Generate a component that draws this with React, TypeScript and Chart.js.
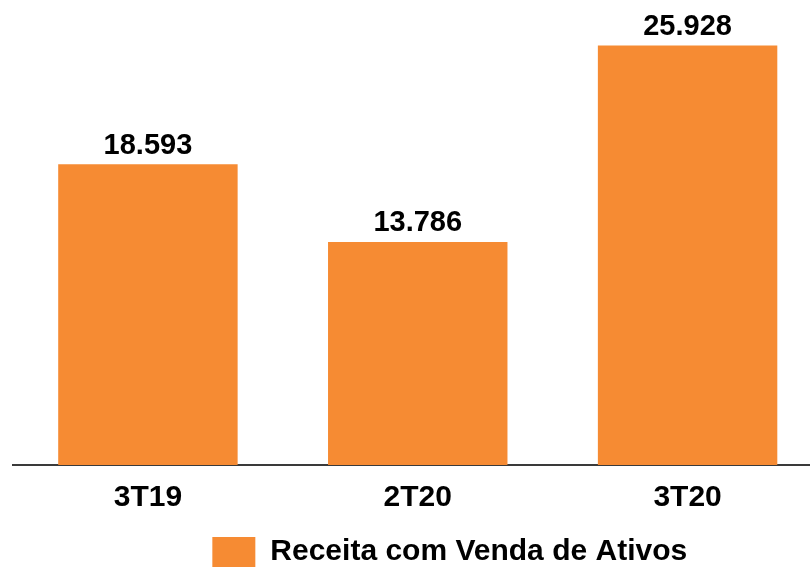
import React, { useEffect, useRef } from "react";
import { Chart, registerables } from "chart.js";

Chart.register(...registerables);

const categories = ["3T19", "2T20", "3T20"];
const seriesName = "Receita com Venda de Ativos";
const seriesValues = [18593, 13786, 25928];

const BAR_COLOR = "#F68B33";
const FONT = "'Liberation Sans', Arial, Helvetica, sans-serif";

function formatPt(v: number): string {
  return String(Math.round(v)).replace(/\B(?=(\d{3})+(?!\d))/g, ".");
}

const valueLabels = {
  id: "valueLabels",
  afterDatasetsDraw(chart: any) {
    const ctx = chart.ctx;
    ctx.save();
    ctx.font = `bold 29px ${FONT}`;
    ctx.fillStyle = "#000";
    ctx.textAlign = "center";
    ctx.textBaseline = "alphabetic";
    chart.data.datasets.forEach((ds: any, di: number) => {
      const meta = chart.getDatasetMeta(di);
      meta.data.forEach((el: any, i: number) => {
        ctx.fillText(formatPt(ds.data[i]), el.x, el.y - 10.5);
      });
    });
    ctx.restore();
  },
};

// shift the legend so it is centred where the reference has it
const legendShift = {
  id: "legendShift",
  afterLayout(chart: any) {
    const lg = chart.legend;
    if (lg) {
      lg.left += 32;
      lg.right += 32;
    }
  },
};

export default function App() {
  const ref = useRef<HTMLCanvasElement | null>(null);
  useEffect(() => {
    if (!ref.current) return;
    const chart = new Chart(ref.current, {
      type: "bar",
      data: {
        labels: categories,
        datasets: [
          {
            label: seriesName,
            data: seriesValues,
            backgroundColor: BAR_COLOR,
            borderWidth: 0,
            barPercentage: 0.665,
            categoryPercentage: 1,
          },
        ],
      },
      options: {
        responsive: false,
        animation: false,
        layout: { padding: { left: 13, right: 77.5, top: 12, bottom: 0 } },
        plugins: {
          legend: {
            display: true,
            position: "bottom",
            labels: {
              boxWidth: 43,
              boxHeight: 30,
              padding: 6,
              color: "#000",
              font: { family: FONT, size: 30, weight: "bold" },
            },
          },
          tooltip: { enabled: false },
        },
        scales: {
          x: {
            grid: { display: false, drawTicks: false },
            border: { display: true, color: "#3a3a3a", width: 2 },
            ticks: {
              color: "#000",
              padding: 15,
              font: { family: FONT, size: 30, weight: "bold" },
            },
          },
          y: {
            display: false,
            min: 0,
            max: 28000,
          },
        },
      },
      plugins: [valueLabels, legendShift],
    });
    return () => chart.destroy();
  }, []);

  return (
    <div
      style={{
        position: "absolute",
        left: 0,
        top: 0,
        width: 810,
        height: 567,
        overflow: "hidden",
        background: "#fff",
      }}
    >
      <canvas ref={ref} width={900} height={577} style={{ display: "block" }} />
    </div>
  );
}
